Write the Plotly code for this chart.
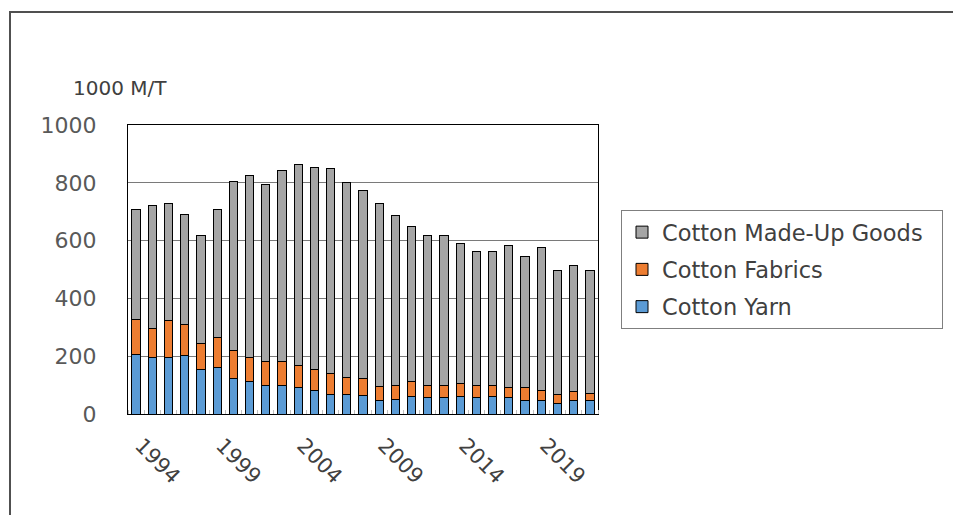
import plotly.graph_objects as go

years = list(range(1994, 2023))
cotton_yarn = [207, 196, 196, 201, 155, 161, 123, 111, 100, 100, 92, 83, 69, 69, 65,
               48, 51, 60, 56, 56, 60, 56, 60, 56, 48, 48, 37, 48, 48]
cotton_fabrics = [121, 101, 126, 107, 90, 104, 98, 85, 83, 83, 75, 72, 72, 58, 57,
                  47, 47, 52, 42, 42, 45, 42, 38, 36, 44, 35, 31, 29, 23]
cotton_madeup = [378, 423, 407, 384, 373, 441, 582, 630, 611, 658, 695, 697, 707, 673, 650,
                 632, 588, 536, 518, 521, 486, 464, 464, 492, 452, 493, 430, 436, 424]
tick_years = [1994, 1999, 2004, 2009, 2014, 2019]
y_ticks = [0, 200, 400, 600, 800, 1000]

FONT = "DejaVu Sans"
line = dict(color="black", width=1)

fig = go.Figure()
fig.add_trace(go.Bar(x=years, y=cotton_yarn, name="Cotton Yarn", legendgroup="a",
                     legendrank=3, marker=dict(color="#5B9BD5", line=line)))
fig.add_trace(go.Bar(x=years, y=cotton_fabrics, name="Cotton Fabrics", legendgroup="b",
                     legendrank=2, marker=dict(color="#ED7D31", line=line)))
fig.add_trace(go.Bar(x=years, y=cotton_madeup, name="Cotton Made-Up Goods\u00a0\u00a0",
                     legendgroup="c", legendrank=1,
                     marker=dict(color="#A5A5A5", line=line)))

W, H = 945, 507
L, T, PW, PH = 120, 117, 470, 289

def px(x):
    return (x - L) / PW

def py(y):
    return (T + PH - y) / PH

fig.update_layout(
    barmode="stack",
    bargap=0.49,
    width=W, height=H,
    margin=dict(l=L, r=W - L - PW, t=T, b=H - T - PH, autoexpand=False),
    paper_bgcolor="white", plot_bgcolor="white",
    font=dict(family=FONT, size=21, color="#595959"),
    legend=dict(x=px(613), y=py(202), xanchor="left", yanchor="top",
                traceorder="grouped", bordercolor="#7F7F7F", borderwidth=1,
                bgcolor="white", font=dict(size=22.5, color="#404040"),
                itemwidth=30, tracegroupgap=5),
    xaxis=dict(range=[1993.5, 2022.5], tickvals=tick_years,
               ticktext=[str(t) for t in tick_years], tickangle=45,
               showgrid=False, showline=True, linecolor="black", linewidth=1,
               mirror=True, ticks="", zeroline=False, ticklabelstandoff=10,
               ticklabelshift=5, tickfont=dict(size=21, color="#404040"),
               minor=dict(tick0=1993.5, dtick=1, ticks="inside", ticklen=4,
                          tickcolor="#BFBFBF", showgrid=False)),
    yaxis=dict(range=[0, 1000], tickvals=y_ticks, showgrid=True,
               gridcolor="#7A7A7A", gridwidth=1.3, showline=True,
               linecolor="black", linewidth=1, mirror=True, ticks="",
               zeroline=False, ticklabelstandoff=26, tickfont=dict(size=22)),
    annotations=[dict(text="1000 M/T", xref="paper", yref="paper",
                      x=px(112), y=py(80), xanchor="center", yanchor="middle",
                      showarrow=False, font=dict(size=20, color="#404040"))],
    shapes=[dict(type="path", xref="paper", yref="paper",
                 path=f"M {px(2)},{py(H)} L {px(2)},{py(4)} L {px(W)},{py(4)}",
                 line=dict(color="#505050", width=2), layer="below")],
)

fig.write_html("out.html", config={"displayModeBar": False})
